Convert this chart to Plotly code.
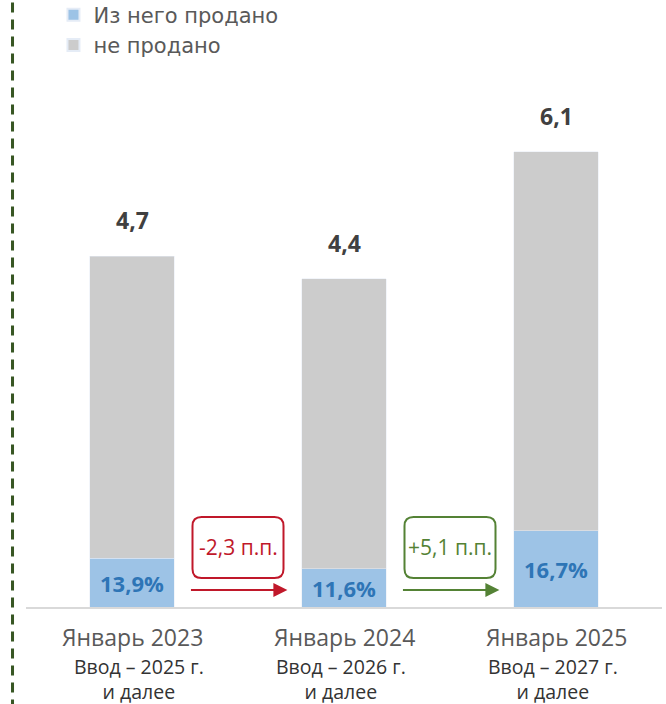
import plotly.graph_objects as go

# ---- data ----
periods = ["Январь 2023", "Январь 2024", "Январь 2025"]
subtitles = ["Ввод – 2025 г.", "Ввод – 2026 г.", "Ввод – 2027 г."]
subtitles2 = ["и далее", "и далее", "и далее"]
totals = [4.7, 4.4, 6.1]
sold_pct = [13.9, 11.6, 16.7]
changes = ["-2,3 п.п.", "+5,1 п.п."]
series_names = ["Из него продано", "не продано"]

# ---- derived ----
sold = [t * p / 100 for t, p in zip(totals, sold_pct)]
unsold = [t - s for t, s in zip(totals, sold)]
xs = list(range(len(periods)))

FONT = "Open Sans"
LEG_FONT = "DejaVu Sans"
BLUE = "#9DC3E6"
GREY = "#CCCCCC"
BLUE_TXT = "#2E75B6"
RED = "#C0182A"
GREEN = "#548235"
SUB_XSHIFT = [7, -3, -3]

fig = go.Figure()
fig.add_trace(go.Bar(
    x=xs, y=sold, name=series_names[0], marker_color=BLUE, width=0.4,
    text=[f"{p:.1f}%".replace(".", ",") for p in sold_pct],
    textposition="inside", insidetextanchor="middle",
    textfont=dict(family=FONT, size=22, color=BLUE_TXT, weight="bold"),
    hoverinfo="skip",
))
fig.add_trace(go.Bar(
    x=xs, y=unsold, name=series_names[1], marker_color=GREY, width=0.4,
    hoverinfo="skip",
))

annotations = []
# totals above bars
for x, t in zip(xs, totals):
    annotations.append(dict(
        x=x, y=t, text=f"<b>{t:.1f}</b>".replace(".", ","), showarrow=False,
        yanchor="bottom", yshift=18,
        font=dict(family=FONT, size=23, color="#404040"),
    ))
# category labels
for x, a, b, c, xsh in zip(xs, periods, subtitles, subtitles2, SUB_XSHIFT):
    annotations.append(dict(x=x, y=0, yref="paper", text=a, showarrow=False,
                            yanchor="middle", yshift=-30,
                            font=dict(family=FONT, size=23, color="#595959")))
    annotations.append(dict(x=x, y=0, yref="paper", text=f"{b}<br>{c}",
                            showarrow=False, yanchor="top", yshift=-45,
                            xshift=xsh, borderpad=0,
                            font=dict(family=FONT, size=19.5, color="#333333")))

shapes = []
PX_X = 212.0   # px per category unit
PX_Y = 74.6    # px per value unit
colors = [RED, GREEN]
for i, (txt, col) in enumerate(zip(changes, colors)):
    xc = xs[i] + 0.5
    hw = 45.5 / PX_X
    y0, y1 = 29 / PX_Y, 90 / PX_Y
    rx, ry = 9 / PX_X, 9 / PX_Y
    x0, x1 = xc - hw, xc + hw
    path = (f"M{x0+rx},{y0} L{x1-rx},{y0} Q{x1},{y0} {x1},{y0+ry} "
            f"L{x1},{y1-ry} Q{x1},{y1} {x1-rx},{y1} L{x0+rx},{y1} "
            f"Q{x0},{y1} {x0},{y1-ry} L{x0},{y0+ry} Q{x0},{y0} {x0+rx},{y0} Z")
    shapes.append(dict(type="path", path=path, xref="x", yref="y",
                       line=dict(color=col, width=2), fillcolor="white"))
    annotations.append(dict(x=xc, y=(y0 + y1) / 2, text=txt, showarrow=False,
                            font=dict(family=FONT, size=21, color=col)))
    ya = 17 / PX_Y
    annotations.append(dict(x=xs[i] + 0.733, y=ya, ax=xs[i] + 0.271, ay=ya,
                            xref="x", yref="y", axref="x", ayref="y", text="",
                            showarrow=True, arrowhead=2, arrowsize=1.4,
                            arrowwidth=2, arrowcolor=col))

# dashed vertical line on the left
shapes.append(dict(type="line", xref="paper", yref="paper",
                   x0=-0.0212, x1=-0.0212, y0=-0.2, y1=1.05,
                   line=dict(color="#375623", width=3, dash="10px,7px")))

fig.update_layout(
    width=666, height=704,
    margin=dict(l=25.5, r=4, t=10, b=97, autoexpand=False),
    barmode="stack",
    plot_bgcolor="white", paper_bgcolor="white",
    font=dict(family=FONT),
    showlegend=True,
    legend=dict(x=0.0432, y=1.026, xanchor="left", yanchor="top",
                font=dict(family=LEG_FONT, size=21, color="#595959"),
                traceorder="normal", itemsizing="constant",
                tracegroupgap=0, bgcolor="rgba(0,0,0,0)"),
    xaxis=dict(range=[-0.5, 2.5], showticklabels=False, showgrid=False,
               zeroline=False, showline=True, linecolor="#D9D9D9",
               linewidth=2, ticks="", fixedrange=True),
    yaxis=dict(range=[0, 8], visible=False, showgrid=False, zeroline=False),
    annotations=annotations,
    shapes=shapes,
)

fig.write_html("out.html")
